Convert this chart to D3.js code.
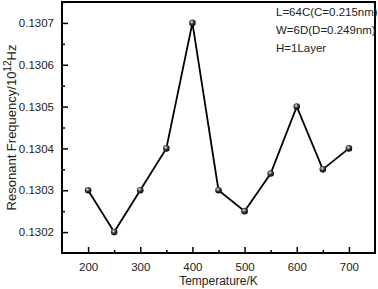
<!DOCTYPE html>
<html>
<head>
<meta charset="utf-8">
<script src="https://cdn.jsdelivr.net/npm/d3@7"></script>
<style>
  body { margin: 0; background: #fff; }
  text { font-family: "Liberation Sans", Arial, sans-serif; fill: #222; }
</style>
</head>
<body>
<div class="chart"></div>
<script>
const temperatures = [200, 250, 300, 350, 400, 450, 500, 550, 600, 650, 700];
const frequencies = [0.1303, 0.1302, 0.1303, 0.1304, 0.1307, 0.1303, 0.13025, 0.13034, 0.1305, 0.13035, 0.1304];
const xTicks = [200, 300, 400, 500, 600, 700];
const yTicks = [0.1302, 0.1303, 0.1304, 0.1305, 0.1306, 0.1307];
const notes = ["L=64C(C=0.215nm)", "W=6D(D=0.249nm)", "H=1Layer"];

const svgW = 378, svgH = 289;
const padL = 62, padR = 375, padT = 2, padB = 253;

const svg = d3.select(".chart").append("svg")
  .attr("width", svgW).attr("height", svgH);

const defs = svg.append("defs");
const grad = defs.append("radialGradient").attr("id", "ball")
  .attr("cx", "40%").attr("cy", "35%").attr("r", "65%");
grad.append("stop").attr("offset", "0%").attr("stop-color", "#eee");
grad.append("stop").attr("offset", "45%").attr("stop-color", "#444");
grad.append("stop").attr("offset", "100%").attr("stop-color", "#000");

const x = d3.scaleLinear().domain([150, 750]).range([padL, padR]);
const y = d3.scaleLinear().domain([0.13015, 0.13075]).range([padB, padT]);

// minor ticks
const xMinor = d3.range(250, 701, 100);
const yMinor = d3.range(0.13025, 0.13075, 0.0001);

svg.append("g").attr("transform", `translate(0,${padB})`)
  .call(d3.axisBottom(x).tickValues(xMinor).tickSize(-3).tickFormat(""))
  .call(g => g.select(".domain").remove())
  .selectAll("line").attr("stroke", "#000").attr("stroke-width", 1.5);

svg.append("g").attr("transform", `translate(${padL},0)`)
  .call(d3.axisLeft(y).tickValues(yMinor).tickSize(-3).tickFormat(""))
  .call(g => g.select(".domain").remove())
  .selectAll("line").attr("stroke", "#000").attr("stroke-width", 1.5);

const xAxis = svg.append("g").attr("transform", `translate(0,${padB})`)
  .call(d3.axisBottom(x).tickValues(xTicks).tickSizeInner(-6).tickSizeOuter(0).tickPadding(10));
xAxis.select(".domain").remove();
xAxis.selectAll("line").attr("stroke", "#000").attr("stroke-width", 1.5);
xAxis.selectAll("text").attr("font-size", 11.5).attr("font-family", "Liberation Sans, Arial, sans-serif").attr("fill", "#222");

const yAxis = svg.append("g").attr("transform", `translate(${padL},0)`)
  .call(d3.axisLeft(y).tickValues(yTicks).tickSizeInner(-6).tickSizeOuter(0).tickPadding(8).tickFormat(d3.format(".4f")));
yAxis.select(".domain").remove();
yAxis.selectAll("line").attr("stroke", "#000").attr("stroke-width", 1.5);
yAxis.selectAll("text").attr("font-size", 11.5).attr("font-family", "Liberation Sans, Arial, sans-serif").attr("fill", "#222");

// frame
svg.append("rect")
  .attr("x", padL).attr("y", padT)
  .attr("width", padR - padL).attr("height", padB - padT)
  .attr("fill", "none").attr("stroke", "#000").attr("stroke-width", 2);

const line = d3.line().x((d, i) => x(temperatures[i])).y(d => y(d));
svg.append("path").datum(frequencies)
  .attr("d", line).attr("fill", "none")
  .attr("stroke", "#000").attr("stroke-width", 1.8);

svg.selectAll("circle.pt").data(frequencies).enter().append("circle")
  .attr("class", "pt")
  .attr("cx", (d, i) => x(temperatures[i]))
  .attr("cy", d => y(d))
  .attr("r", 3.3)
  .attr("fill", "url(#ball)");

svg.selectAll("text.note").data(notes).enter().append("text")
  .attr("class", "note")
  .attr("x", 276)
  .attr("y", (d, i) => 16 + i * 18)
  .attr("font-size", 11.5)
  .text(d => d);

svg.append("text")
  .attr("x", (padL + padR) / 2)
  .attr("y", 285)
  .attr("text-anchor", "middle")
  .attr("font-size", 12)
  .text("Temperature/K");

const yl = svg.append("text")
  .attr("transform", `translate(16,${(padT + padB) / 2}) rotate(-90)`)
  .attr("text-anchor", "middle")
  .attr("font-size", 13);
yl.append("tspan").text("Resonant Frequency/10");
yl.append("tspan").attr("dy", -5).attr("font-size", 10).text("12");
yl.append("tspan").attr("dy", 5).text("Hz");
</script>
</body>
</html>
